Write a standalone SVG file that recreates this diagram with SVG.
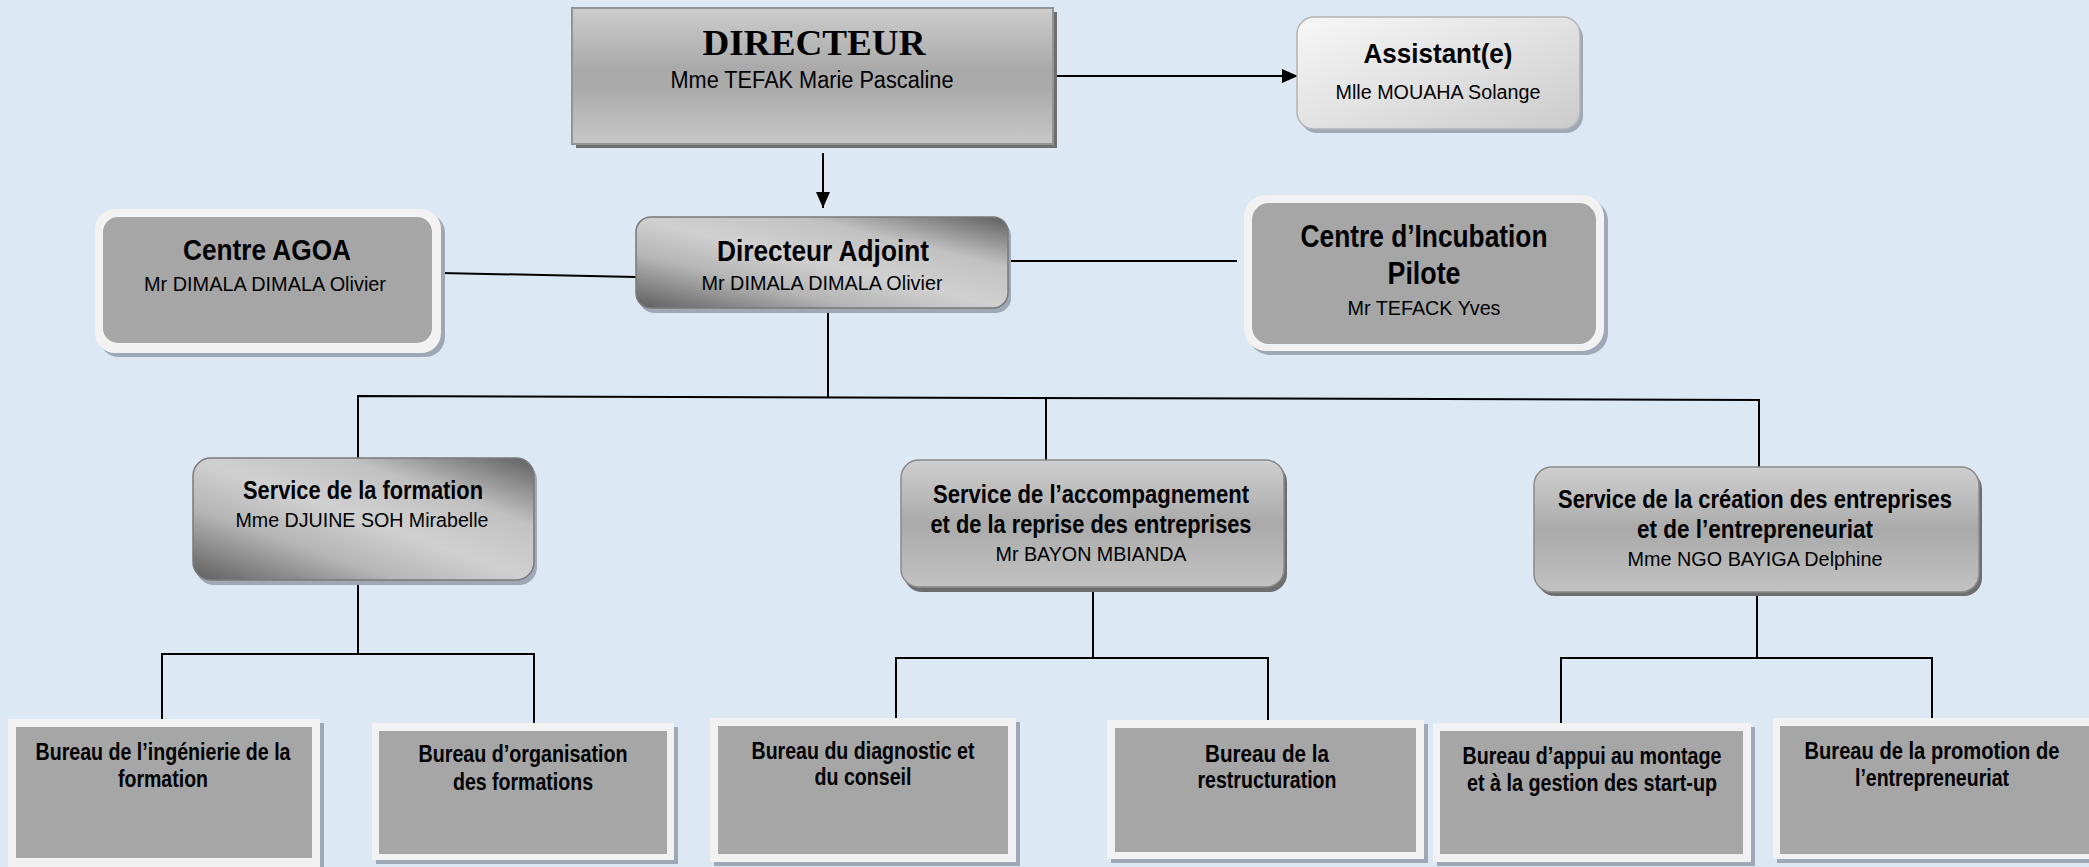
<svg xmlns="http://www.w3.org/2000/svg" width="2089" height="867" viewBox="0 0 2089 867">
<defs>
<linearGradient id="gTop" x1="0" y1="0" x2="0" y2="1">
<stop offset="0" stop-color="#cdcdcd"/><stop offset="0.45" stop-color="#a9a9a9"/><stop offset="0.6" stop-color="#ababab"/><stop offset="1" stop-color="#c8c8c8"/>
</linearGradient>
<linearGradient id="gLight" x1="0" y1="0" x2="1" y2="1">
<stop offset="0" stop-color="#f7f7f7"/><stop offset="0.5" stop-color="#e2e2e2"/><stop offset="1" stop-color="#cbcbcb"/>
</linearGradient>
<linearGradient id="gMetal" x1="0" y1="1" x2="1" y2="0">
<stop offset="0" stop-color="#5e5e5e"/><stop offset="0.3" stop-color="#b6b6b6"/><stop offset="0.5" stop-color="#d0d0d0"/><stop offset="0.72" stop-color="#c2c2c2"/><stop offset="1" stop-color="#5f5f5f"/>
</linearGradient>
<linearGradient id="gServ" x1="0" y1="0" x2="0" y2="1">
<stop offset="0" stop-color="#cfcfcf"/><stop offset="0.5" stop-color="#aaaaaa"/><stop offset="1" stop-color="#c2c2c2"/>
</linearGradient>
<marker id="arr" markerWidth="16" markerHeight="14" refX="16" refY="7" orient="auto" markerUnits="userSpaceOnUse">
<path d="M0,0 L16,7 L0,14 Z" fill="#000"/>
</marker>
</defs>
<style>
.t{font-family:"Liberation Sans Narrow","Liberation Sans",Arial,sans-serif;fill:#000;text-anchor:middle}
.b{font-weight:bold}
.ser{font-family:"Liberation Serif","Times New Roman",serif;font-weight:bold;fill:#000;text-anchor:middle}
.c{stroke:#000;stroke-width:2;fill:none}
.sh{fill:#9ea8b6}
.shd{fill:#6e6e6e}
.wb{fill:#f2f2f2}
.gr{fill:#a6a6a6}
</style>
<rect width="2089" height="867" fill="#dde8f5"/>

<g id="connectors">
<line class="c" x1="1055" y1="76" x2="1298" y2="76" marker-end="url(#arr)"/>
<line class="c" x1="823" y1="153" x2="823" y2="208" marker-end="url(#arr)"/>
<line class="c" x1="441" y1="273" x2="636" y2="277"/>
<line class="c" x1="1011" y1="261" x2="1237" y2="261"/>
<line class="c" x1="828" y1="310" x2="828" y2="397"/>
<polyline class="c" points="358,458 358,396 1759,400 1759,467"/>
<line class="c" x1="1046" y1="397" x2="1046" y2="460"/>
<line class="c" x1="358" y1="582" x2="358" y2="654"/>
<polyline class="c" points="162,719 162,654 534,654 534,723"/>
<line class="c" x1="1093" y1="590" x2="1093" y2="658"/>
<polyline class="c" points="896,718 896,658 1268,658 1268,720"/>
<line class="c" x1="1757" y1="594" x2="1757" y2="658"/>
<polyline class="c" points="1561,723 1561,658 1932,658 1932,718"/>
</g>

<g id="directeur">
<rect class="shd" x="576" y="12" width="481" height="136"/>
<rect x="572" y="8" width="481" height="136" fill="url(#gTop)" stroke="#949494" stroke-width="2"/>
<text class="ser" x="814" y="55" font-size="36" textLength="223" lengthAdjust="spacingAndGlyphs">DIRECTEUR</text>
<text class="t" x="812" y="88" font-size="23" textLength="283" lengthAdjust="spacingAndGlyphs">Mme TEFAK Marie Pascaline</text>
</g>

<g id="assistant">
<rect class="sh" x="1300" y="21" width="283" height="112" rx="17"/>
<rect x="1297" y="17" width="283" height="112" rx="17" fill="url(#gLight)" stroke="#b4b4b4" stroke-width="1.5"/>
<text class="t b" x="1438" y="63" font-size="28" textLength="149" lengthAdjust="spacingAndGlyphs">Assistant(e)</text>
<text class="t" x="1438" y="99" font-size="20" textLength="205" lengthAdjust="spacingAndGlyphs">Mlle MOUAHA Solange</text>
</g>

<g id="directeur-adjoint">
<rect class="sh" x="639" y="221" width="372" height="92" rx="15"/>
<rect x="636" y="217" width="372" height="91" rx="15" fill="url(#gMetal)" stroke="#7a7a7a" stroke-width="1.5"/>
<text class="t b" x="823" y="261" font-size="29" textLength="212" lengthAdjust="spacingAndGlyphs">Directeur Adjoint</text>
<text class="t" x="822" y="290" font-size="21" textLength="241" lengthAdjust="spacingAndGlyphs">Mr DIMALA DIMALA Olivier</text>
</g>

<g id="centre-agoa">
<rect class="sh" x="99" y="213" width="346" height="144" rx="20"/>
<rect class="wb" x="95" y="209" width="346" height="144" rx="20"/>
<rect class="gr" x="103" y="217" width="329" height="126" rx="15"/>
<text class="t b" x="267" y="260" font-size="29" textLength="168" lengthAdjust="spacingAndGlyphs">Centre AGOA</text>
<text class="t" x="265" y="291" font-size="21" textLength="242" lengthAdjust="spacingAndGlyphs">Mr DIMALA DIMALA Olivier</text>
</g>

<g id="centre-incubation">
<rect class="sh" x="1248" y="199" width="360" height="156" rx="22"/>
<rect class="wb" x="1244" y="195" width="360" height="156" rx="22"/>
<rect class="gr" x="1252" y="203" width="344" height="141" rx="17"/>
<text class="t b" x="1424" y="247" font-size="31" textLength="247" lengthAdjust="spacingAndGlyphs">Centre d’Incubation</text>
<text class="t b" x="1424" y="284" font-size="31" textLength="73" lengthAdjust="spacingAndGlyphs">Pilote</text>
<text class="t" x="1424" y="315" font-size="21" textLength="153" lengthAdjust="spacingAndGlyphs">Mr TEFACK Yves</text>
</g>

<g id="service-formation">
<rect class="sh" x="196" y="462" width="341" height="123" rx="18"/>
<rect x="193" y="458" width="341" height="122" rx="18" fill="url(#gMetal)" stroke="#7a7a7a" stroke-width="1.5"/>
<text class="t b" x="363" y="499" font-size="25" textLength="240" lengthAdjust="spacingAndGlyphs">Service de la formation</text>
<text class="t" x="362" y="527" font-size="20" textLength="253" lengthAdjust="spacingAndGlyphs">Mme DJUINE SOH Mirabelle</text>
</g>

<g id="service-accompagnement">
<rect class="shd" x="904" y="464" width="383" height="128" rx="18"/>
<rect x="901" y="460" width="383" height="127" rx="18" fill="url(#gServ)" stroke="#8a8a8a" stroke-width="1.5"/>
<text class="t b" x="1091" y="503" font-size="25" textLength="316" lengthAdjust="spacingAndGlyphs">Service de l’accompagnement</text>
<text class="t b" x="1091" y="533" font-size="25" textLength="321" lengthAdjust="spacingAndGlyphs">et de la reprise des entreprises</text>
<text class="t" x="1091" y="561" font-size="21" textLength="191" lengthAdjust="spacingAndGlyphs">Mr BAYON MBIANDA</text>
</g>

<g id="service-creation">
<rect class="shd" x="1537" y="471" width="445" height="125" rx="18"/>
<rect x="1534" y="467" width="445" height="125" rx="18" fill="url(#gServ)" stroke="#8a8a8a" stroke-width="1.5"/>
<text class="t b" x="1755" y="508" font-size="25" textLength="394" lengthAdjust="spacingAndGlyphs">Service de la création des entreprises</text>
<text class="t b" x="1755" y="538" font-size="25" textLength="236" lengthAdjust="spacingAndGlyphs">et de l’entrepreneuriat</text>
<text class="t" x="1755" y="566" font-size="20" textLength="255" lengthAdjust="spacingAndGlyphs">Mme NGO BAYIGA Delphine</text>
</g>

<g id="bureau-ingenierie">
<rect class="sh" x="12" y="723" width="312" height="144"/>
<rect class="wb" x="8" y="719" width="312" height="148"/>
<rect class="gr" x="16" y="727" width="296" height="131"/>
<text class="t b" x="163" y="760" font-size="23" textLength="255" lengthAdjust="spacingAndGlyphs">Bureau de l’ingénierie de la</text>
<text class="t b" x="163" y="787" font-size="23" textLength="90" lengthAdjust="spacingAndGlyphs">formation</text>
</g>

<g id="bureau-organisation">
<rect class="sh" x="376" y="727" width="302" height="137"/>
<rect class="wb" x="372" y="723" width="302" height="137"/>
<rect class="gr" x="379" y="731" width="288" height="123"/>
<text class="t b" x="523" y="762" font-size="23" textLength="209" lengthAdjust="spacingAndGlyphs">Bureau d’organisation</text>
<text class="t b" x="523" y="790" font-size="23" textLength="140" lengthAdjust="spacingAndGlyphs">des formations</text>
</g>

<g id="bureau-diagnostic">
<rect class="sh" x="714" y="722" width="306" height="144"/>
<rect class="wb" x="710" y="718" width="306" height="144"/>
<rect class="gr" x="718" y="726" width="290" height="128"/>
<text class="t b" x="863" y="759" font-size="23" textLength="223" lengthAdjust="spacingAndGlyphs">Bureau du diagnostic et</text>
<text class="t b" x="863" y="785" font-size="23" textLength="97" lengthAdjust="spacingAndGlyphs">du conseil</text>
</g>

<g id="bureau-restructuration">
<rect class="sh" x="1111" y="724" width="317" height="139"/>
<rect class="wb" x="1107" y="720" width="317" height="139"/>
<rect class="gr" x="1115" y="728" width="301" height="124"/>
<text class="t b" x="1267" y="762" font-size="23" textLength="124" lengthAdjust="spacingAndGlyphs">Bureau  de la</text>
<text class="t b" x="1267" y="788" font-size="23" textLength="139" lengthAdjust="spacingAndGlyphs">restructuration</text>
</g>

<g id="bureau-appui">
<rect class="sh" x="1437" y="727" width="318" height="139"/>
<rect class="wb" x="1433" y="723" width="318" height="139"/>
<rect class="gr" x="1440" y="731" width="303" height="123"/>
<text class="t b" x="1592" y="764" font-size="23" textLength="259" lengthAdjust="spacingAndGlyphs">Bureau d’appui au montage</text>
<text class="t b" x="1592" y="791" font-size="23" textLength="250" lengthAdjust="spacingAndGlyphs">et à la gestion des start-up</text>
</g>

<g id="bureau-promotion">
<rect class="sh" x="1777" y="722" width="312" height="141"/>
<rect class="wb" x="1773" y="718" width="316" height="141"/>
<rect class="gr" x="1780" y="726" width="309" height="128"/>
<text class="t b" x="1932" y="759" font-size="23" textLength="255" lengthAdjust="spacingAndGlyphs">Bureau  de la promotion de</text>
<text class="t b" x="1932" y="786" font-size="23" textLength="154" lengthAdjust="spacingAndGlyphs">l’entrepreneuriat</text>
</g>
</svg>
